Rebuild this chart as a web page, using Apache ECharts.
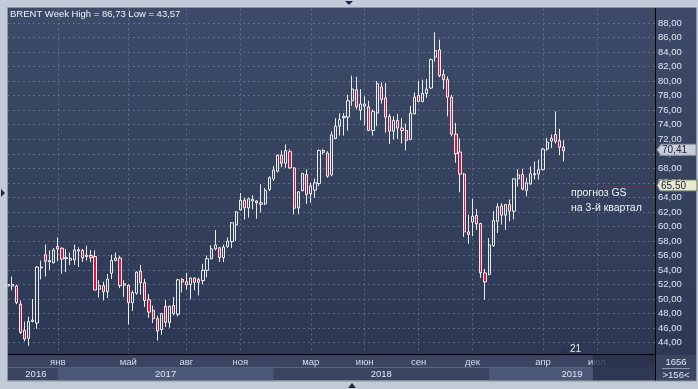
<!DOCTYPE html>
<html><head><meta charset="utf-8">
<script src="https://cdn.jsdelivr.net/npm/echarts@6/dist/echarts.min.js"></script>
<style>html,body{margin:0;padding:0;background:#c4cbd8;overflow:hidden}#c{width:698px;height:389px}</style>
</head><body><div id="c"></div>
<script>
// ---- data (weekly BRENT candles) ----
const weekSlots = 157; // visible weekly slots (last ones are empty)
const open = [51.8,51.8,51.8,49.3,45.7,44.6,46.9,46.7,54.3,56.1,55.1,55.0,57.25,57.0,55.55,55.35,55.4,56.6,56.7,55.85,
56.0,55.85,51.35,51.85,51.0,53.55,55.3,55.65,51.9,51.9,49.5,50.8,53.85,52.25,49.9,48.45,47.3,45.8,49.0,46.8,
49.1,47.9,52.7,52.4,52.0,52.9,52.7,52.55,53.95,55.55,56.9,57.05,55.7,57.25,57.9,60.2,62.25,63.6,62.55,63.5,
63.5,63.05,63.1,65.1,66.55,67.6,69.8,68.7,70.3,68.05,62.55,64.9,67.15,64.5,65.0,65.9,70.2,70.1,67.1,72.1,
73.8,74.95,75.05,77.3,78.8,76.0,76.55,76.45,73.2,75.6,79.2,77.7,75.15,73.1,74.6,73.55,73.2,71.95,75.5,78.0,
77.2,78.3,79.05,83.3,84.3,80.9,80.2,77.8,72.7,70.25,67.2,59.25,60.6,61.5,60.4,53.6,53.4,57.35,60.7,62.8,
61.55,63.0,62.1,66.55,67.15,64.95,65.85,67.1,67.2,67.8,70.65,71.75,72.65,71.8,70.95];
const close = [52.0,52.0,49.5,45.4,44.5,46.9,47.1,54.4,54.4,55.2,55.3,56.75,56.9,55.5,55.7,55.6,56.75,56.8,55.7,56.05,
55.7,51.25,51.85,51.0,52.75,55.3,55.65,51.85,52.1,49.5,50.9,53.7,52.25,49.8,48.2,47.3,45.6,48.0,46.8,49.0,
48.0,52.65,52.35,51.95,52.9,52.3,52.3,53.95,55.55,56.9,57.45,55.7,57.15,57.95,60.5,62.0,63.6,62.55,63.8,63.75,
63.25,63.25,64.95,66.7,67.75,69.8,68.7,70.45,68.05,62.5,64.75,67.3,64.4,65.55,66.0,70.45,70.45,66.9,72.6,73.8,
74.7,75.15,77.3,78.9,76.45,76.85,76.85,73.2,75.8,79.65,77.45,75.05,73.1,74.6,73.55,73.2,71.85,75.6,77.8,77.2,
78.3,78.9,82.95,84.2,80.75,80.2,77.8,72.7,70.0,67.2,59.25,58.9,61.4,60.35,53.6,52.35,57.45,60.8,62.7,61.55,
63.0,62.1,66.55,67.1,65.15,66.0,67.25,67.25,67.8,70.65,71.6,72.1,71.7,70.9,70.41];
const low = [51.3,51.2,49.3,45.2,44.2,43.57,46.8,45.9,52.7,53.1,54.0,54.9,55.2,53.5,53.7,54.7,54.7,54.4,55.1,55.3,
55.1,51.2,50.2,49.8,50.15,52.75,55.2,51.5,50.3,46.5,48.35,50.6,50.6,48.9,47.4,46.7,44.3,45.1,46.15,46.05,
47.75,47.6,50.9,51.3,49.95,51.2,50.5,52.0,53.0,55.45,56.7,55.1,55.1,57.05,57.05,58.0,62.2,60.95,61.2,62.35,
61.05,61.9,62.95,64.85,66.25,67.4,68.15,68.05,67.95,61.65,61.65,64.85,63.1,63.25,63.95,65.55,69.9,66.7,66.9,72.0,
72.5,72.5,73.2,76.6,76.1,74.6,73.9,73.1,72.5,73.8,76.9,72.9,71.35,71.95,72.05,71.4,70.45,71.95,75.4,77.1,
77.1,77.7,78.9,82.7,80.55,78.9,75.15,72.4,68.75,64.7,58.55,57.6,58.65,59.5,52.9,49.9,53.25,57.2,59.1,60.25,
59.55,60.7,60.95,65.5,64.95,64.15,65.75,66.45,66.45,67.7,70.4,70.8,71.4,69.8,68.95];
const high = [52.5,53.1,52.0,49.8,46.9,47.6,50.0,54.55,55.3,57.5,56.7,57.0,58.5,57.1,56.9,56.4,57.5,57.1,56.9,57.35,
56.75,56.7,52.6,52.4,53.45,56.1,56.4,55.95,52.6,52.0,51.2,53.8,54.7,52.8,50.7,49.1,47.7,48.1,49.9,49.1,
50.3,52.8,52.9,53.6,52.95,52.95,52.95,54.85,56.0,57.4,59.5,57.15,57.5,58.5,60.6,62.1,64.6,63.95,63.95,64.3,
63.6,65.8,65.3,66.9,68.3,69.9,70.45,71.3,70.6,68.15,64.85,67.35,67.85,66.0,66.6,70.6,70.7,70.35,73.1,74.9,
75.6,75.6,78.1,80.75,80.6,78.9,77.9,77.3,76.1,80.0,79.85,79.75,75.5,75.15,75.5,74.9,74.15,76.6,78.45,80.05,
80.2,80.3,83.1,86.73,85.7,81.6,80.65,78.1,74.25,72.1,67.35,61.6,63.8,62.4,60.5,54.15,58.4,62.1,63.2,63.2,
63.1,63.7,66.6,67.9,67.95,66.7,68.25,68.95,69.2,70.8,72.2,72.65,75.85,73.45,71.85];
const monthIdx = [12,29,43,56,73,86,99,112,129,142];
const monthLabels = ['янв','май','авг','ноя','мар','июн','сен','дек','апр','июл'];
const yearStartIdx = [0,12,64,116];
const yearEndIdx = [12,64,116,156];
const yearLabels = ['2016','2017','2018','2019'];
const lastClose = 70.41;
const forecast = 65.50;
const forecastFromIdx = 142;
const futureFromIdx = 141;
const titleText = 'BRENT Week High = 86,73 Low = 43,57';
const forecastText = ['прогноз GS', 'на 3-й квартал'];
const weekNo = '21';
const cornerTexts = ['1656', '>156<'];

// ---- chart ----
const FONT = '"Liberation Sans", Arial, sans-serif';
const cats = [];
for (let i = 0; i < weekSlots; i++) cats.push(String(i));
const candles = open.map((o, i) => [o, close[i], low[i], high[i]]);
const fmt = v => v.toFixed(2).replace('.', ',');
const gridLine = { color: 'rgba(125,140,172,0.55)', type: [2, 3], width: 1 };

const chart = echarts.init(document.getElementById('c'), null, { renderer: 'canvas' });
chart.setOption({
  animation: false,
  backgroundColor: '#c4cbd8',
  grid: { left: 8, top: 8.47, width: 647, height: 348.7 },
  xAxis: {
    type: 'category', data: cats, boundaryGap: false,
    axisLine: { show: false }, axisTick: { show: false }, axisLabel: { show: false },
    splitLine: { show: true, interval: (i) => monthIdx.indexOf(i) >= 0, lineStyle: gridLine }
  },
  yAxis: {
    type: 'value', position: 'right', min: 42, max: 90, interval: 2, scale: true,
    axisLine: { show: false }, axisTick: { show: false },
    splitLine: { show: true, showMinLine: false, showMaxLine: false, lineStyle: gridLine },
    axisLabel: { margin: 3, color: '#e2e7f1', fontSize: 9.5, fontFamily: FONT,
      formatter: v => (v < 44 || v > 88) ? '' : fmt(v) }
  },
  series: [{
    type: 'candlestick', data: candles, barWidth: 2.7,
    itemStyle: { color: 'rgba(0,0,0,0)', color0: '#e8103c', borderColor: '#ffffff', borderColor0: '#ffffff', borderWidth: 0.9 },
    markLine: {
      silent: true, symbol: ['none', 'none'], label: { show: false },
      lineStyle: { color: '#d0102e', type: [1, 2], width: 1 },
      data: [[{ coord: [String(forecastFromIdx), forecast] }, { coord: [String(weekSlots - 1), forecast] }]]
    }
  }]
});

// ---- decorations positioned from the axes ----
const px = i => chart.convertToPixel({ gridIndex: 0 }, [i, 60])[0];
const py = v => chart.convertToPixel({ gridIndex: 0 }, [0, v])[1];
const L = px(0), R = px(weekSlots - 1);
const T = 8, B = 354;
const bgGrad = () => new echarts.graphic.LinearGradient(0, 0, 0, 1, [
  { offset: 0, color: '#3e4b68' }, { offset: 1, color: '#2c3853' }]);
const txt = (x, y, text, opt, z) => ({
  type: 'text', x: x, y: y, silent: true, z: z || 20,
  style: Object.assign({ text: text, fill: '#dfe5ef', font: '9.5px ' + FONT,
    textAlign: 'center', textVerticalAlign: 'middle', align: 'center', verticalAlign: 'middle' }, opt || {})
});
const els = [];
// backgrounds
els.push({ type: 'rect', z: -5, silent: true, shape: { x: L, y: T, width: R - L, height: B - T }, style: { fill: bgGrad() } });
els.push({ type: 'rect', z: -5, silent: true, shape: { x: R, y: T, width: 696 - R, height: 373 }, style: { fill: bgGrad() } });
// bottom panel
els.push({ type: 'rect', z: 10, silent: true, shape: { x: L, y: B, width: R - L, height: 13.5 }, style: { fill: '#3a4562' } });
els.push({ type: 'rect', z: 10, silent: true, shape: { x: L, y: B + 13.5, width: R - L, height: 13 }, style: { fill: '#3a4562' } });
for (let k = 0; k < yearLabels.length; k++) {
  const x1 = px(yearStartIdx[k]), x2 = px(yearEndIdx[k]);
  if (k % 2 === 1) els.push({ type: 'rect', z: 10, silent: true, shape: { x: x1, y: B + 13.5, width: x2 - x1, height: 13 }, style: { fill: '#4b5877' } });
  els.push(txt((x1 + x2) / 2 + (k === 0 ? 3 : 0), B + 20.5, yearLabels[k], { font: '9.5px ' + FONT, fill: '#e2e7f1' }));
}
for (let k = 0; k < monthIdx.length; k++) {
  els.push(txt(px(monthIdx[k]), B + 8, monthLabels[k], { fill: '#d6dded' }));
}
// future shading
const fx = px(futureFromIdx);
els.push({ type: 'rect', z: 21, silent: true, shape: { x: fx, y: B + 1, width: R - fx, height: 25.5 }, style: { fill: 'rgba(38,48,74,0.78)' } });
// frame lines
els.push({ type: 'line', z: 22, silent: true, shape: { x1: L, y1: B + 0.5, x2: R, y2: B + 0.5 }, style: { stroke: '#000', lineWidth: 1 } });
els.push({ type: 'line', z: 22, silent: true, shape: { x1: R + 0.5, y1: T, x2: R + 0.5, y2: 381 }, style: { stroke: '#000', lineWidth: 1 } });
els.push({ type: 'rect', z: 22, silent: true, shape: { x: 7.5, y: 7.5, width: 689, height: 373.5 }, style: { fill: null, stroke: '#8a92a4', lineWidth: 1 } });
// corner box
els.push({ type: 'rect', z: 10, silent: true, shape: { x: R + 1, y: B + 1, width: 696 - R - 1, height: 26 }, style: { fill: '#3a4562' } });
els.push(txt(676, B + 8, cornerTexts[0], { fill: '#e2e7f1' }));
els.push({ type: 'line', z: 22, silent: true, shape: { x1: 662, y1: B + 14.5, x2: 690, y2: B + 14.5 }, style: { stroke: '#8c96ac', lineWidth: 1 } });
els.push(txt(676, B + 21, cornerTexts[1], { fill: '#e2e7f1' }));
// title
els.push(txt(10, 14.5, titleText, { textAlign: 'left', align: 'left', fill: '#eef1f7', font: '9.5px ' + FONT }));
// price boxes
const yc1 = py(lastClose) - 1;
els.push({ type: 'polygon', z: 22, silent: true, shape: { points: [[657, yc1], [661, yc1 - 5.5], [696, yc1 - 5.5], [696, yc1 + 5.5], [661, yc1 + 5.5]] }, style: { fill: '#c9cdd6', stroke: '#8d93a2', lineWidth: 1 } });
els.push(txt(662, yc1 + 0.5, fmt(lastClose), { textAlign: 'left', align: 'left', fill: '#18203a', font: '10px ' + FONT }, 25));
const yc2 = py(forecast) - 1;
els.push({ type: 'polygon', z: 22, silent: true, shape: { points: [[657, yc2], [660, yc2 - 5.5], [697, yc2 - 5.5], [697, yc2 + 5.5], [660, yc2 + 5.5]] }, style: { fill: '#e6e9cf', stroke: '#70766a', lineWidth: 1 } });
els.push(txt(661, yc2 + 0.5, fmt(forecast), { textAlign: 'left', align: 'left', fill: '#18203a', font: '10px ' + FONT }, 25));
// forecast note
els.push(txt(571, py(forecast) + 7, forecastText[0], { textAlign: 'left', align: 'left', fill: '#f2f4f8', font: '10.5px ' + FONT }));
els.push(txt(571, py(forecast) + 22, forecastText[1], { textAlign: 'left', align: 'left', fill: '#f2f4f8', font: '10.5px ' + FONT }));
// week marker
els.push({ type: 'polygon', z: 20, silent: true, shape: { points: [[560, 353], [563, 349], [566, 353]] }, style: { fill: '#27314b' } });
els.push(txt(570, 349.5, weekNo, { textAlign: 'left', align: 'left', fill: '#e2e7f1', font: '10px ' + FONT }));
// frame arrows
els.push({ type: 'polygon', z: 22, silent: true, shape: { points: [[345, 1], [353, 1], [349, 5]] }, style: { fill: '#1f2a44' } });
els.push({ type: 'polygon', z: 22, silent: true, shape: { points: [[348, 388], [356, 388], [352, 383]] }, style: { fill: '#1f2a44' } });
els.push({ type: 'polygon', z: 22, silent: true, shape: { points: [[1, 189], [1, 197], [5, 193]] }, style: { fill: '#1f2a44' } });
chart.setOption({ graphic: { elements: els } });
</script></body></html>
